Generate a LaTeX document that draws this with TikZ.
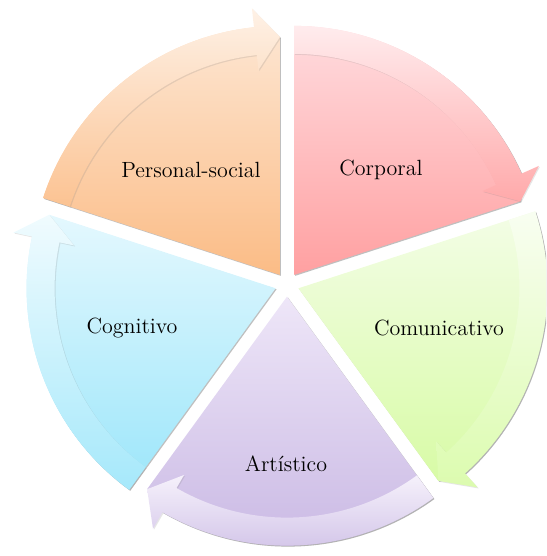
\documentclass[tikz,border=0pt]{standalone}
\usetikzlibrary{calc,shadows}
\definecolor{peachTop}{HTML}{FDE6D2}
\definecolor{peachBot}{HTML}{FBBC86}
\definecolor{pinkTop}{HTML}{FFDCDF}
\definecolor{pinkBot}{HTML}{FFA0A1}
\definecolor{greenTop}{HTML}{F3FDE6}
\definecolor{greenBot}{HTML}{D8FBA6}
\definecolor{lilacTop}{HTML}{EEE6F8}
\definecolor{lilacBot}{HTML}{C8B7E3}
\definecolor{cyanTop}{HTML}{E4F8FE}
\definecolor{cyanBot}{HTML}{9CE6FA}
\tikzset{%
  seglabel/.style={font=\fontsize{11}{13}\selectfont,text=black},
  segshadow/.style={drop shadow={opacity=0.5,shadow xshift=0.5pt,shadow yshift=-0.5pt}},
  bandshadow/.style={drop shadow={opacity=0.2,shadow xshift=0.5pt,shadow yshift=-0.5pt}}}

\begin{document}
\begin{tikzpicture}[x=0.5pt,y=0.5pt]
  \useasboundingbox (0,0) rectangle (546,556);
  \clip (0,0) rectangle (546,556);
  \coordinate (C) at (287,271.4);
  % five exploded segments, each with its clockwise arrow band
  \foreach \a/\ct/\cb in {162/peachTop/peachBot,90/pinkTop/pinkBot,
      18/greenTop/greenBot,-54/lilacTop/lilacBot,-126/cyanTop/cyanBot} {
    \pgfmathsetmacro{\b}{\a-72}
    \pgfmathsetmacro{\h}{\a-66}
    \coordinate (P) at ($(C)+(\a-36:12)$);
    \path[segshadow,top color=\ct,bottom color=\cb]
      (P) -- ($(P)+(\a:249)$) arc[start angle=\a,end angle=\h,radius=249]
      -- ($(P)+(\b:238)$) -- cycle;
    \path[bandshadow,top color=\ct!55!white,bottom color=\cb!90!white]
      ($(P)+(\a:249)$) arc[start angle=\a,end angle=\h,radius=249]
      -- ($(P)+(\h:268)$) -- ($(P)+(\b:238)$) -- ($(P)+(\h:206)$)
      -- ($(P)+(\h:221)$) arc[start angle=\h,end angle=\a,radius=221] -- cycle;
  }
  \node[seglabel] (personal) at (191,386) {Personal-social};
  \node[seglabel] (corporal) at (381,386) {Corporal};
  \node[seglabel] (comunicativo) at (439,228) {Comunicativo};
  \node[seglabel] (cognitivo) at (132,228) {Cognitivo};
  \node[seglabel] (artistico) at (286,92) {Artístico};
\end{tikzpicture}
\end{document}
